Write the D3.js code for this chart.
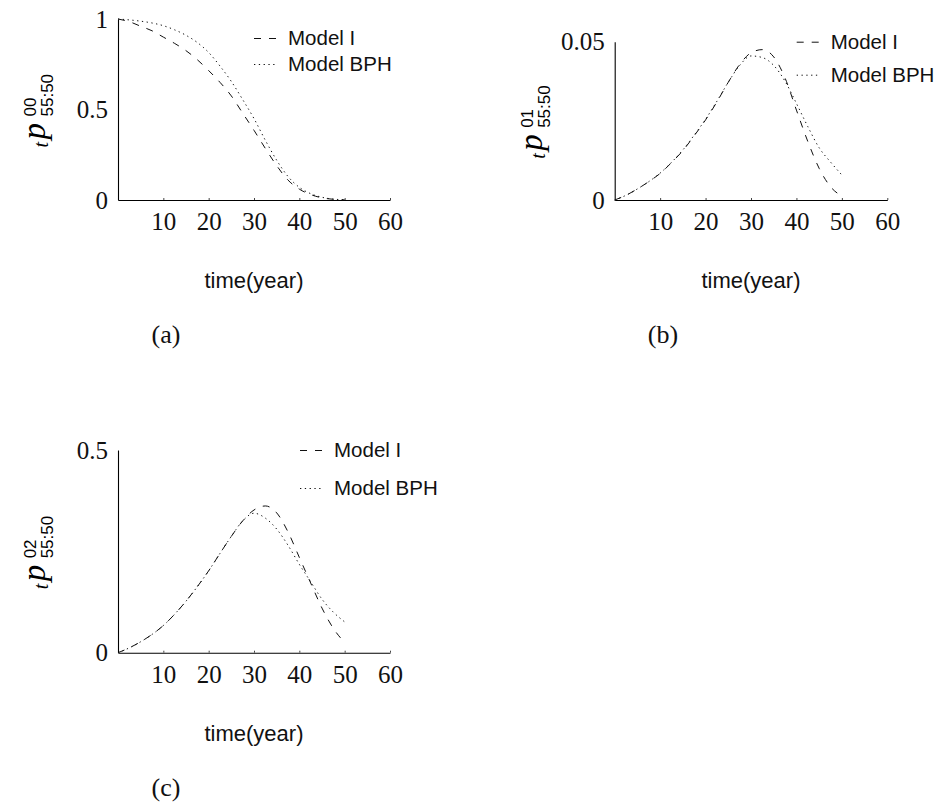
<!DOCTYPE html>
<html>
<head>
<meta charset="utf-8">
<script src="https://d3js.org/d3.v7.min.js"></script>
<style>
  body { margin: 0; background: #fff; }
  svg { display: block; }
</style>
</head>
<body>
<div id="my_dataviz"></div>
<script>

// time grid (years) shared by all three panels
var years = [0, 2.5, 5, 7.5, 10, 12.5, 15, 17.5, 20, 22.5, 25, 27.5, 30, 32.5, 35, 37.5, 40, 42.5, 45, 47.5, 50];
var xTicks = [10, 20, 30, 40, 50, 60];
var seriesNames = ["Model I", "Model BPH"];

// (a) tp00
var p00ModelI = [1.0, 0.985, 0.96, 0.935, 0.90, 0.865, 0.825, 0.775, 0.715, 0.65, 0.575, 0.48, 0.385, 0.285, 0.19, 0.11, 0.06, 0.03, 0.012, 0.004, 0.001];
var p00BPH    = [1.0, 0.995, 0.988, 0.978, 0.963, 0.94, 0.91, 0.87, 0.815, 0.74, 0.655, 0.555, 0.45, 0.33, 0.22, 0.13, 0.07, 0.035, 0.015, 0.005, 0.001];
var p00Ticks  = [0, 0.5, 1];

// (b) tp01
var p01ModelI = [0, 0.0015, 0.0035, 0.0058, 0.0084, 0.0118, 0.0156, 0.0203, 0.0253, 0.031, 0.0372, 0.0428, 0.0465, 0.0475, 0.0452, 0.0385, 0.0284, 0.0185, 0.0100, 0.0042, 0.0012];
var p01BPH    = [0, 0.0015, 0.0035, 0.0058, 0.0085, 0.0119, 0.0158, 0.0205, 0.0255, 0.0312, 0.0372, 0.0425, 0.0455, 0.045, 0.0425, 0.0375, 0.0305, 0.0232, 0.0165, 0.012, 0.0079];
var p01Ticks  = [0, 0.05];

// (c) tp02
var p02ModelI = [0, 0.012, 0.027, 0.045, 0.067, 0.095, 0.127, 0.163, 0.202, 0.245, 0.287, 0.325, 0.352, 0.362, 0.345, 0.298, 0.235, 0.172, 0.11, 0.06, 0.025];
var p02BPH    = [0, 0.012, 0.027, 0.045, 0.067, 0.095, 0.127, 0.163, 0.202, 0.245, 0.287, 0.325, 0.344, 0.332, 0.305, 0.265, 0.218, 0.175, 0.132, 0.1, 0.076];
var p02Ticks  = [0, 0.5];

var serif = "'Liberation Serif', 'Times New Roman', serif";
var sans = "'Liberation Sans', Arial, sans-serif";

var svg = d3.select("#my_dataviz")
  .append("svg")
  .attr("width", 940)
  .attr("height", 802);

// panel layout: axis box + legend offsets
var panels = [
  { left: 118, right: 390, top: 19, bottom: 200, ymax: 1, ticks: p00Ticks, sup: "00",
    a: p00ModelI, b: p00BPH, tag: "(a)", legX: 136, legY1: 26, legY2: 52 },
  { left: 614.7, right: 887.3, top: 41.7, bottom: 200, ymax: 0.05, ticks: p01Ticks, sup: "01",
    a: p01ModelI, b: p01BPH, tag: "(b)", legX: 182, legY1: 7, legY2: 40 },
  { left: 118, right: 390, top: 450, bottom: 652.7, ymax: 0.5, ticks: p02Ticks, sup: "02",
    a: p02ModelI, b: p02BPH, tag: "(c)", legX: 182, legY1: 7, legY2: 45 }
];

var styles = [
  { dash: "7,8" },
  { dash: "1.3,3.5" }
];

panels.forEach(function(p) {
  var x = d3.scaleLinear().domain([0, 60]).range([p.left, p.right]);
  var y = d3.scaleLinear().domain([0, p.ymax]).range([p.bottom, p.top]);
  var g = svg.append("g");

  // X axis
  var xa = g.append("g")
    .attr("transform", "translate(0," + p.bottom + ")")
    .call(d3.axisBottom(x).tickValues(xTicks).tickSizeInner(-2).tickSizeOuter(0).tickFormat(d3.format("d")));
  xa.select(".domain").attr("stroke", "#000").attr("stroke-width", 1.1);
  xa.selectAll(".tick line").attr("stroke", "#444");
  xa.selectAll("text")
    .attr("y", 30).attr("dy", null)
    .style("font-family", serif).style("font-size", "25px").attr("fill", "#111");

  // Y axis
  var ya = g.append("g")
    .attr("transform", "translate(" + p.left + ",0)")
    .call(d3.axisLeft(y).tickValues(p.ticks).tickSize(0).tickFormat(function(d) { return d3.format("")(d); }));
  ya.select(".domain").attr("stroke", "#000").attr("stroke-width", 1.1);
  ya.selectAll("text")
    .attr("x", -10).attr("dy", "0.33em")
    .style("font-family", serif).style("font-size", "25px").attr("fill", "#111");

  // curves
  [p.a, p.b].forEach(function(vals, i) {
    var line = d3.line()
      .x(function(d, j) { return x(years[j]); })
      .y(function(d) { return y(d); })
      .curve(d3.curveMonotoneX);
    g.append("path")
      .datum(vals)
      .attr("d", line)
      .attr("fill", "none")
      .attr("stroke", "#111")
      .attr("stroke-width", 1)
      .attr("stroke-dasharray", styles[i].dash);
  });

  // legend
  var legY = [p.top + p.legY1, p.top + p.legY2];
  seriesNames.forEach(function(name, i) {
    g.append("line")
      .attr("x1", p.left + p.legX).attr("x2", p.left + p.legX + 22)
      .attr("y1", legY[i] - 6.5).attr("y2", legY[i] - 6.5)
      .attr("stroke", "#111").attr("stroke-width", 1)
      .attr("stroke-dasharray", styles[i].dash);
    g.append("text")
      .attr("x", p.left + p.legX + 34)
      .attr("y", legY[i])
      .style("font-family", sans).style("font-size", "20.5px")
      .attr("fill", "#111")
      .text(name);
  });

  // y label  tp^{0x}_{55:50}
  var lab = g.append("g")
    .attr("transform", "translate(" + (p.left - 73) + "," + ((p.top + p.bottom) / 2) + ") rotate(-90)");
  lab.append("text").attr("x", -38).attr("y", 3)
    .style("font-family", serif).style("font-style", "italic").style("font-size", "20px").text("t");
  lab.append("text").attr("x", -30).attr("y", 0)
    .style("font-family", serif).style("font-style", "italic").style("font-size", "33px").text("p");
  lab.append("text").attr("x", -7).attr("y", -9)
    .style("font-family", sans).style("font-size", "17px").text(p.sup);
  lab.append("text").attr("x", -7).attr("y", 8)
    .style("font-family", sans).style("font-size", "17px").text("55:50");

  // x label
  var cx = (p.left + p.right) / 2;
  g.append("text")
    .attr("x", cx).attr("y", p.bottom + 88)
    .attr("text-anchor", "middle")
    .style("font-family", sans).style("font-size", "22px")
    .attr("fill", "#111")
    .text("time(year)");

  // panel tag
  g.append("text")
    .attr("x", cx - 88).attr("y", p.bottom + 143)
    .attr("text-anchor", "middle")
    .style("font-family", serif).style("font-size", "26px")
    .attr("fill", "#111")
    .text(p.tag);
});

</script>
</body>
</html>
